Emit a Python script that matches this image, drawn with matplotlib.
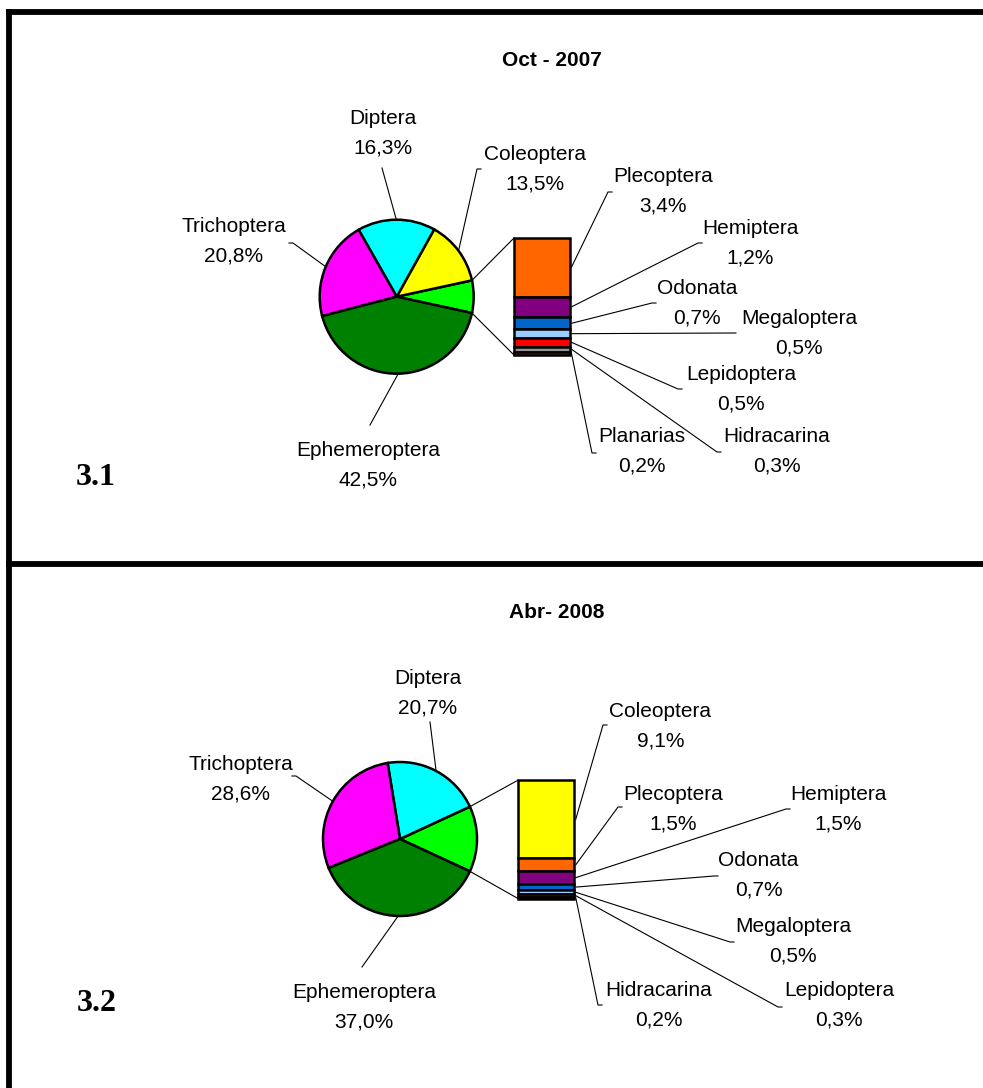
import matplotlib
matplotlib.use('Agg')
import matplotlib.pyplot as plt
import numpy as np

W, H = 983, 1088

# Oct 2007 sample
oct_names = ['Ephemeroptera', 'Trichoptera', 'Diptera', 'Coleoptera']
oct_vals = [42.5, 20.8, 16.3, 13.5]
oct_bar_names = ['Plecoptera', 'Hemiptera', 'Odonata', 'Megaloptera',
                 'Lepidoptera', 'Hidracarina', 'Planarias']
oct_bar_vals = [3.4, 1.2, 0.7, 0.5, 0.5, 0.3, 0.2]

# Apr 2008 sample
abr_names = ['Ephemeroptera', 'Trichoptera', 'Diptera']
abr_vals = [37.0, 28.6, 20.7]
abr_bar_names = ['Coleoptera', 'Plecoptera', 'Hemiptera', 'Odonata',
                 'Megaloptera', 'Lepidoptera', 'Hidracarina']
abr_bar_vals = [9.1, 1.5, 1.5, 0.7, 0.5, 0.3, 0.2]

colors = {'Ephemeroptera': '#008000', 'Trichoptera': '#ff00ff',
          'Diptera': '#00ffff', 'Coleoptera': '#ffff00',
          'Plecoptera': '#ff6600', 'Hemiptera': '#800080',
          'Odonata': '#0066cc', 'Megaloptera': '#99ccff',
          'Lepidoptera': '#ff0000', 'Hidracarina': '#969696',
          'Planarias': '#993300'}
other_color = '#00ff00'

plt.rcParams['font.family'] = ['Liberation Sans', 'DejaVu Sans']

fig = plt.figure(figsize=(W / 100, H / 100), dpi=100)
ax = fig.add_axes([0, 0, 1, 1])


def fy(y):
    # page coords (y down) -> axes coords (y up)
    return H - y


def pct(v):
    return f'{v:.1f}%'.replace('.', ',')


def label(x, y, name, val):
    ax.text(x, fy(y + 7.5), name, ha='center', va='baseline', fontsize=15)
    ax.text(x, fy(y + 37), pct(val), ha='center', va='baseline', fontsize=15)


def leader(tx, lx, ly, ex, ey):
    # short horizontal stub on the label side, then straight to the mark
    stub = lx + (4 if tx > lx else -4)
    if abs(fy(ly) - ey) < 3 or abs(tx - lx) < 15:
        stub = lx
    ax.plot([stub, lx, ex], [fy(ly), fy(ly), ey], color='black', lw=0.8)


def bar_of_pie(names, vals, bar_names, bar_vals, center, r, bar_box,
               main_lbl, bar_lbl, bar_colors=None):
    other = sum(bar_vals)
    pie_vals = [other] + vals[::-1]
    pie_cols = [other_color] + [colors[n] for n in names[::-1]]
    total = sum(pie_vals)
    start = -other / total * 180
    cx, cy = center[0], fy(center[1])
    ax.pie(pie_vals, colors=pie_cols, startangle=start, counterclock=True,
           center=(cx, cy), radius=r,
           wedgeprops=dict(edgecolor='black', linewidth=1.8))

    # leaders to the pie slices
    angles = np.cumsum([0] + pie_vals) / total * 360 + start
    for i, n in enumerate(names[::-1]):
        mid = np.radians((angles[i + 1] + angles[i + 2]) / 2)
        px, py = cx + r * np.cos(mid), cy + r * np.sin(mid)
        k = names.index(n)
        (tx, ty), (lx, ly) = main_lbl[k]
        leader(tx, lx, ly, px, py)
        label(tx, ty, n, vals[k])

    # stacked bar
    x0, x1, top, bottom = bar_box
    scale = (bottom - top) / other
    yy = fy(top)
    mids = []
    cols = bar_colors or [colors[n] for n in bar_names]
    for n, v, c in zip(bar_names, bar_vals, cols):
        ax.bar((x0 + x1) / 2, v * scale, width=x1 - x0, bottom=yy - v * scale,
               color=c, edgecolor='black', linewidth=1.8)
        mids.append(yy - v * scale / 2)
        yy -= v * scale

    # connectors pie -> bar
    a0, a1 = np.radians(start), np.radians(-start)
    ax.plot([cx + r * np.cos(a1), x0], [cy + r * np.sin(a1), fy(top)],
            color='black', lw=0.8)
    ax.plot([cx + r * np.cos(a0), x0], [cy + r * np.sin(a0), fy(top) - other * scale],
            color='black', lw=0.8)

    for k, n in enumerate(bar_names):
        (tx, ty), (lx, ly) = bar_lbl[k]
        leader(tx, lx, ly, x1 + 1.5, mids[k])
        label(tx, ty, n, bar_vals[k])


# label text anchor and leader start, page pixels
oct_main_lbl = [((368, 448), (370, 425)), ((234, 225), (293, 243)),
                ((383, 117), (382, 168)), ((535, 153), (477, 169))]
oct_bar_lbl = [((663, 175), (608, 192)), ((750, 226.5), (698, 243)),
               ((697, 286.5), (652, 303)), ((799, 316.5), (736, 333)),
               ((741, 373), (678, 389)), ((777, 435), (717, 452)),
               ((642, 435), (592, 453))]
abr_main_lbl = [((364, 990), (362, 967)), ((241, 762), (296, 776)),
                ((428, 676), (430, 722))]
abr_bar_lbl = [((660.5, 709.5), (603, 725)), ((673.5, 792.5), (618, 807)),
               ((838.5, 792.5), (786, 809)), ((758.5, 858), (714, 876)),
               ((793, 924.5), (730, 942)), ((839, 988), (778, 1007)),
               ((659, 988), (598, 1005))]

bar_of_pie(oct_names, oct_vals, oct_bar_names, oct_bar_vals,
           (396.7, 296.7), 77, (514.3, 570, 237.7, 355.3),
           oct_main_lbl, oct_bar_lbl)
abr_cols = [colors[n] for n in abr_bar_names[:-1]] + ['black']
bar_of_pie(abr_names, abr_vals, abr_bar_names, abr_bar_vals,
           (400, 839), 77, (518.3, 574.3, 780, 898.7),
           abr_main_lbl, abr_bar_lbl, bar_colors=abr_cols)

# titles and panel numbers
ax.text(552, fy(65.5), 'Oct - 2007', ha='center', va='baseline',
        fontsize=15, fontweight='bold')
ax.text(557, fy(618.5), 'Abr- 2008', ha='center', va='baseline',
        fontsize=15, fontweight='bold')
ax.text(96, fy(485), '3.1', ha='center', va='baseline', fontsize=23,
        fontweight='bold', family='Liberation Serif')
ax.text(97, fy(1011), '3.2', ha='center', va='baseline', fontsize=23,
        fontweight='bold', family='Liberation Serif')

# panel frame
ax.plot([9, W], [fy(12), fy(12)], color='black', lw=4.2, solid_capstyle='projecting')
ax.plot([9, 9], [fy(12), 0], color='black', lw=4.2, solid_capstyle='projecting')
ax.plot([9, W], [fy(563.7), fy(563.7)], color='black', lw=4.2)

ax.set_xlim(0, W)
ax.set_ylim(0, H)
ax.set_aspect('auto')
ax.axis('off')

fig.savefig('out.png', dpi=100)
